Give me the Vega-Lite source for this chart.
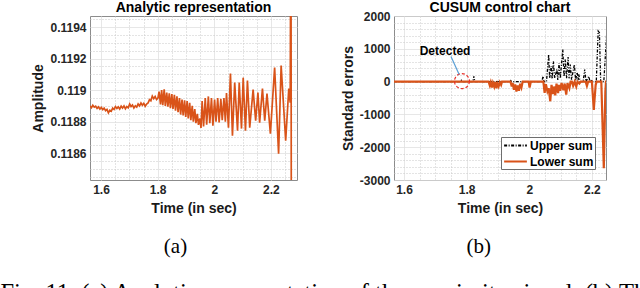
{
  "$schema": "https://vega.github.io/schema/vega-lite/v6.json",
  "background": "white",
  "padding": {"left": 0, "top": 0, "right": 0, "bottom": 0},
  "config": {
    "font": "Liberation Sans",
    "view": {"stroke": "#8c8c8c", "strokeWidth": 1},
    "axis": {
      "domain": false, "ticks": false,
      "labelFont": "Liberation Sans", "labelFontSize": 12, "labelFontWeight": "bold", "labelColor": "#262626",
      "titleFont": "Liberation Sans", "titleFontSize": 14, "titleFontWeight": "bold", "titleColor": "#1a1a1a",
      "labelFlush": false, "labelOverlap": false, "gridWidth": 1
    },
    "axisX": {"labelPadding": 4, "titlePadding": 6},
    "axisY": {"labelPadding": 4, "titlePadding": 4},
    "title": {"font": "Liberation Sans", "fontSize": 14, "fontWeight": "bold", "color": "#000000"},
    "legend": {
      "title": null,
      "symbolType": "M-1.75,0H1.75", "symbolSize": 169, "symbolStrokeWidth": 2, "symbolOffset": 6,
      "labelFont": "Liberation Sans", "labelFontSize": 12, "labelFontWeight": "bold", "labelColor": "#000000",
      "padding": 1, "strokeColor": "#6e6e6e", "fillColor": "white", "rowPadding": 2, "labelOffset": 7
    }
  },
  "datasets": {
    "amp": [
      {"t":1.561,"a":0.1189},{"t":1.566,"a":0.118888},{"t":1.571,"a":0.118904},{"t":1.576,"a":0.118892},
      {"t":1.581,"a":0.118898},{"t":1.586,"a":0.118884},{"t":1.591,"a":0.118894},{"t":1.596,"a":0.11888},
      {"t":1.601,"a":0.11889},{"t":1.606,"a":0.118876},{"t":1.611,"a":0.118886},{"t":1.616,"a":0.11887},
      {"t":1.621,"a":0.118878},{"t":1.626,"a":0.118856},{"t":1.631,"a":0.118872},{"t":1.636,"a":0.118866},
      {"t":1.641,"a":0.118886},{"t":1.646,"a":0.118878},{"t":1.651,"a":0.118896},{"t":1.656,"a":0.118884},
      {"t":1.661,"a":0.118894},{"t":1.666,"a":0.11888},{"t":1.671,"a":0.118898},{"t":1.676,"a":0.118886},
      {"t":1.681,"a":0.1189},{"t":1.686,"a":0.118882},{"t":1.691,"a":0.118896},{"t":1.696,"a":0.118888},
      {"t":1.701,"a":0.118912},{"t":1.706,"a":0.118896},{"t":1.711,"a":0.118906},{"t":1.716,"a":0.118886},
      {"t":1.721,"a":0.1189},{"t":1.726,"a":0.118892},{"t":1.731,"a":0.118912},{"t":1.736,"a":0.1189},
      {"t":1.741,"a":0.118918},{"t":1.746,"a":0.118904},{"t":1.751,"a":0.118916},{"t":1.756,"a":0.118898},
      {"t":1.761,"a":0.118912},{"t":1.766,"a":0.118918},{"t":1.771,"a":0.11894},{"t":1.776,"a":0.118932},
      {"t":1.781,"a":0.118962},{"t":1.786,"a":0.118946},{"t":1.791,"a":0.11896},{"t":1.796,"a":0.11894},
      {"t":1.801,"a":0.11895},
      {"t":1.805,"a":0.11899},{"t":1.81,"a":0.11891},{"t":1.814,"a":0.119},{"t":1.818,"a":0.118905},
      {"t":1.823,"a":0.119005},{"t":1.827,"a":0.1189},{"t":1.832,"a":0.118985},{"t":1.836,"a":0.118895},
      {"t":1.841,"a":0.11898},{"t":1.845,"a":0.118885},{"t":1.85,"a":0.118975},{"t":1.854,"a":0.11888},
      {"t":1.859,"a":0.11897},{"t":1.863,"a":0.11887},{"t":1.868,"a":0.11896},{"t":1.872,"a":0.11886},
      {"t":1.877,"a":0.11895},{"t":1.881,"a":0.118845},{"t":1.886,"a":0.11894},{"t":1.89,"a":0.11884},
      {"t":1.895,"a":0.118935},{"t":1.899,"a":0.11883},{"t":1.904,"a":0.11893},{"t":1.908,"a":0.11882},
      {"t":1.913,"a":0.11892},{"t":1.917,"a":0.11881},{"t":1.922,"a":0.1189},{"t":1.926,"a":0.1188},
      {"t":1.931,"a":0.11888},{"t":1.935,"a":0.11879},{"t":1.94,"a":0.11885},{"t":1.944,"a":0.11878},
      {"t":1.949,"a":0.11882},{"t":1.953,"a":0.11876},
      {"t":1.957,"a":0.11893},{"t":1.962,"a":0.11877},{"t":1.968,"a":0.11895},{"t":1.973,"a":0.11878},
      {"t":1.979,"a":0.11896},{"t":1.984,"a":0.11879},{"t":1.99,"a":0.11895},{"t":1.995,"a":0.118775},
      {"t":2.001,"a":0.11894},{"t":2.006,"a":0.1188},{"t":2.012,"a":0.11895},{"t":2.017,"a":0.118795},
      {"t":2.023,"a":0.118945},{"t":2.028,"a":0.11881},{"t":2.034,"a":0.11895},{"t":2.039,"a":0.1188},
      {"t":2.043,"a":0.118981},{"t":2.05,"a":0.118762},{"t":2.057,"a":0.119105},{"t":2.064,"a":0.118711},
      {"t":2.072,"a":0.119048},{"t":2.082,"a":0.118743},{"t":2.088,"a":0.119048},{"t":2.096,"a":0.118756},
      {"t":2.102,"a":0.119079},{"t":2.11,"a":0.118743},{"t":2.117,"a":0.11906},{"t":2.125,"a":0.118762},
      {"t":2.137,"a":0.119003},{"t":2.146,"a":0.118806},{"t":2.154,"a":0.118984},{"t":2.16,"a":0.118794},
      {"t":2.17,"a":0.11901},{"t":2.178,"a":0.118806},{"t":2.186,"a":0.118978},{"t":2.198,"a":0.118724},
      {"t":2.213,"a":0.119143},{"t":2.227,"a":0.118597},{"t":2.236,"a":0.119156},{"t":2.252,"a":0.118679},
      {"t":2.263,"a":0.11901},{"t":2.268,"a":0.11892},{"t":2.2705,"a":0.1203},{"t":2.2725,"a":0.1173}
    ],
    "cusum": [
      {"t":1.568,"v":0,"s":"Upper sum"},{"t":1.78,"v":0,"s":"Upper sum"},{"t":1.783,"v":40,"s":"Upper sum"},{"t":1.786,"v":0,"s":"Upper sum"},
      {"t":1.82,"v":0,"s":"Upper sum"},{"t":1.823,"v":160,"s":"Upper sum"},{"t":1.826,"v":0,"s":"Upper sum"},
      {"t":1.939,"v":0,"s":"Upper sum"},{"t":1.941,"v":30,"s":"Upper sum"},{"t":1.943,"v":0,"s":"Upper sum"},
      {"t":2.04,"v":0,"s":"Upper sum"},{"t":2.044,"v":160,"s":"Upper sum"},{"t":2.047,"v":0,"s":"Upper sum"},
      {"t":2.055,"v":0,"s":"Upper sum"},{"t":2.062,"v":830,"s":"Upper sum"},{"t":2.065,"v":100,"s":"Upper sum"},
      {"t":2.07,"v":470,"s":"Upper sum"},{"t":2.073,"v":80,"s":"Upper sum"},{"t":2.077,"v":620,"s":"Upper sum"},
      {"t":2.081,"v":100,"s":"Upper sum"},{"t":2.088,"v":370,"s":"Upper sum"},{"t":2.091,"v":50,"s":"Upper sum"},
      {"t":2.095,"v":560,"s":"Upper sum"},{"t":2.099,"v":100,"s":"Upper sum"},{"t":2.107,"v":980,"s":"Upper sum"},
      {"t":2.111,"v":150,"s":"Upper sum"},{"t":2.115,"v":680,"s":"Upper sum"},{"t":2.119,"v":100,"s":"Upper sum"},
      {"t":2.124,"v":750,"s":"Upper sum"},{"t":2.127,"v":100,"s":"Upper sum"},{"t":2.131,"v":520,"s":"Upper sum"},
      {"t":2.135,"v":60,"s":"Upper sum"},{"t":2.144,"v":520,"s":"Upper sum"},{"t":2.148,"v":40,"s":"Upper sum"},
      {"t":2.153,"v":280,"s":"Upper sum"},{"t":2.156,"v":40,"s":"Upper sum"},{"t":2.158,"v":230,"s":"Upper sum"},
      {"t":2.162,"v":0,"s":"Upper sum"},{"t":2.172,"v":0,"s":"Upper sum"},{"t":2.177,"v":370,"s":"Upper sum"},{"t":2.181,"v":0,"s":"Upper sum"},
      {"t":2.19,"v":160,"s":"Upper sum"},{"t":2.194,"v":0,"s":"Upper sum"},{"t":2.198,"v":60,"s":"Upper sum"},
      {"t":2.201,"v":0,"s":"Upper sum"},{"t":2.214,"v":0,"s":"Upper sum"},{"t":2.22,"v":1540,"s":"Upper sum"},
      {"t":2.224,"v":1490,"s":"Upper sum"},{"t":2.228,"v":0,"s":"Upper sum"},{"t":2.238,"v":0,"s":"Upper sum"},
      {"t":2.25,"v":1900,"s":"Upper sum"},
      {"t":1.568,"v":0,"s":"Lower sum"},{"t":1.87,"v":0,"s":"Lower sum"},{"t":1.874,"v":-120,"s":"Lower sum"},
      {"t":1.877,"v":-20,"s":"Lower sum"},{"t":1.881,"v":-180,"s":"Lower sum"},{"t":1.884,"v":-40,"s":"Lower sum"},
      {"t":1.888,"v":-150,"s":"Lower sum"},{"t":1.891,"v":-10,"s":"Lower sum"},{"t":1.895,"v":-200,"s":"Lower sum"},
      {"t":1.898,"v":-60,"s":"Lower sum"},{"t":1.902,"v":-150,"s":"Lower sum"},{"t":1.906,"v":-20,"s":"Lower sum"},
      {"t":1.91,"v":-100,"s":"Lower sum"},{"t":1.913,"v":0,"s":"Lower sum"},{"t":1.94,"v":0,"s":"Lower sum"},
      {"t":1.944,"v":-150,"s":"Lower sum"},{"t":1.947,"v":-40,"s":"Lower sum"},{"t":1.951,"v":-250,"s":"Lower sum"},
      {"t":1.955,"v":-90,"s":"Lower sum"},{"t":1.959,"v":-300,"s":"Lower sum"},{"t":1.963,"v":-120,"s":"Lower sum"},
      {"t":1.967,"v":-280,"s":"Lower sum"},{"t":1.971,"v":-60,"s":"Lower sum"},{"t":1.975,"v":-180,"s":"Lower sum"},
      {"t":1.979,"v":0,"s":"Lower sum"},{"t":1.998,"v":0,"s":"Lower sum"},{"t":2.001,"v":-180,"s":"Lower sum"},
      {"t":2.005,"v":0,"s":"Lower sum"},{"t":2.045,"v":0,"s":"Lower sum"},{"t":2.049,"v":-340,"s":"Lower sum"},
      {"t":2.053,"v":-80,"s":"Lower sum"},{"t":2.058,"v":-300,"s":"Lower sum"},{"t":2.062,"v":-200,"s":"Lower sum"},
      {"t":2.067,"v":-600,"s":"Lower sum"},{"t":2.071,"v":-100,"s":"Lower sum"},{"t":2.076,"v":-380,"s":"Lower sum"},
      {"t":2.079,"v":-150,"s":"Lower sum"},{"t":2.083,"v":-420,"s":"Lower sum"},{"t":2.087,"v":-60,"s":"Lower sum"},
      {"t":2.092,"v":-350,"s":"Lower sum"},{"t":2.095,"v":-100,"s":"Lower sum"},{"t":2.099,"v":-280,"s":"Lower sum"},
      {"t":2.103,"v":-40,"s":"Lower sum"},{"t":2.109,"v":-260,"s":"Lower sum"},{"t":2.113,"v":-60,"s":"Lower sum"},
      {"t":2.118,"v":-400,"s":"Lower sum"},{"t":2.122,"v":-50,"s":"Lower sum"},{"t":2.128,"v":-200,"s":"Lower sum"},
      {"t":2.132,"v":0,"s":"Lower sum"},{"t":2.136,"v":0,"s":"Lower sum"},{"t":2.14,"v":-130,"s":"Lower sum"},{"t":2.145,"v":0,"s":"Lower sum"},
      {"t":2.15,"v":-150,"s":"Lower sum"},{"t":2.154,"v":0,"s":"Lower sum"},{"t":2.16,"v":-60,"s":"Lower sum"},
      {"t":2.164,"v":0,"s":"Lower sum"},{"t":2.18,"v":0,"s":"Lower sum"},{"t":2.184,"v":-130,"s":"Lower sum"},
      {"t":2.188,"v":0,"s":"Lower sum"},{"t":2.2,"v":0,"s":"Lower sum"},{"t":2.206,"v":-860,"s":"Lower sum"},
      {"t":2.212,"v":-100,"s":"Lower sum"},{"t":2.215,"v":0,"s":"Lower sum"},{"t":2.23,"v":0,"s":"Lower sum"},
      {"t":2.238,"v":-2640,"s":"Lower sum"},{"t":2.243,"v":-300,"s":"Lower sum"},{"t":2.245,"v":0,"s":"Lower sum"},
      {"t":2.25,"v":0,"s":"Lower sum"}
    ]
  },
  "title": {
    "text": "Fig. 11. (a) Analytic representation of the proximity signal. (b) The",
    "orient": "bottom", "anchor": "start", "font": "Liberation Serif", "fontSize": 24.5,
    "fontWeight": "normal", "color": "#000000", "offset": 25, "dx": -31
  },
  "spacing": 42,
  "resolve": {"scale": {"color": "independent", "strokeDash": "independent"}, "legend": {"color": "independent", "strokeDash": "independent"}},
  "hconcat": [
    {
      "title": {"text": "(a)", "orient": "bottom", "anchor": "middle", "font": "Liberation Serif", "fontSize": 21, "fontWeight": "normal", "offset": 20, "dx": 11},
      "hconcat": [
        {
          "title": {"text": "Analytic representation", "offset": -2},
          "width": 207, "height": 164,
          "data": {"name": "amp"},
          "mark": {"type": "line", "color": "#D95319", "strokeWidth": 1.7, "clip": true},
          "encoding": {
            "x": {
              "field": "t", "type": "quantitative",
              "scale": {"domain": [1.561, 2.292], "nice": false, "zero": false},
              "axis": {
                "title": "Time (in sec)",
                "values": [1.6,1.65,1.7,1.75,1.8,1.85,1.9,1.95,2,2.05,2.1,2.15,2.2,2.25],
                "labelExpr": "abs(datum.value*5 - round(datum.value*5)) < 0.001 ? format(datum.value, '.1~f') : ''",
                "gridDash": {"condition": {"test": "abs(datum.value*5 - round(datum.value*5)) < 0.001", "value": [1, 0]}, "value": [1, 2]},
                "gridColor": {"condition": {"test": "abs(datum.value*5 - round(datum.value*5)) < 0.001", "value": "#dedede"}, "value": "#c8c8c8"}
              }
            },
            "y": {
              "field": "a", "type": "quantitative",
              "scale": {"domain": [0.11843, 0.11947], "nice": false, "zero": false},
              "axis": {
                "title": "Amplitude",
                "values": [0.11845,0.1185,0.11855,0.1186,0.11865,0.1187,0.11875,0.1188,0.11885,0.1189,0.11895,0.119,0.11905,0.1191,0.11915,0.1192,0.11925,0.1193,0.11935,0.1194,0.11945],
                "labelExpr": "abs(datum.value/0.0002 - round(datum.value/0.0002)) < 0.01 ? format(datum.value, '.4~f') : ''",
                "gridDash": {"condition": {"test": "abs(datum.value/0.0002 - round(datum.value/0.0002)) < 0.01", "value": [1, 0]}, "value": [1, 2]},
                "gridColor": {"condition": {"test": "abs(datum.value/0.0002 - round(datum.value/0.0002)) < 0.01", "value": "#dedede"}, "value": "#c8c8c8"}
              }
            }
          }
        }
      ]
    },
    {
      "title": {"text": "(b)", "orient": "bottom", "anchor": "middle", "font": "Liberation Serif", "fontSize": 21, "fontWeight": "normal", "offset": 20, "dx": 5},
      "resolve": {"scale": {"color": "independent", "strokeDash": "independent"}, "legend": {"color": "independent", "strokeDash": "independent"}},
      "hconcat": [
        {
          "title": {"text": "CUSUM control chart", "offset": -5},
          "width": 212, "height": 164,
          "encoding": {
            "x": {
              "field": "t", "type": "quantitative",
              "scale": {"domain": [1.568, 2.245], "nice": false, "zero": false},
              "axis": {
                "title": "Time (in sec)",
                "values": [1.6,1.65,1.7,1.75,1.8,1.85,1.9,1.95,2,2.05,2.1,2.15,2.2],
                "labelExpr": "abs(datum.value*5 - round(datum.value*5)) < 0.001 ? format(datum.value, '.1~f') : ''",
                "gridDash": {"condition": {"test": "abs(datum.value*5 - round(datum.value*5)) < 0.001", "value": [1, 0]}, "value": [1, 2]},
                "gridColor": {"condition": {"test": "abs(datum.value*5 - round(datum.value*5)) < 0.001", "value": "#dedede"}, "value": "#c8c8c8"}
              }
            },
            "y": {
              "field": "v", "type": "quantitative",
              "scale": {"domain": [-3000, 2000], "nice": false, "zero": false},
              "axis": {
                "title": "Standard errors",
                "values": [-3000,-2800,-2600,-2400,-2200,-2000,-1800,-1600,-1400,-1200,-1000,-800,-600,-400,-200,0,200,400,600,800,1000,1200,1400,1600,1800,2000],
                "labelExpr": "abs(datum.value % 1000) < 1 ? '' + datum.value : ''",
                "gridDash": {"condition": {"test": "abs(datum.value % 1000) < 1", "value": [1, 0]}, "value": [1, 2]},
                "gridColor": {"condition": {"test": "abs(datum.value % 1000) < 1", "value": "#dedede"}, "value": "#c8c8c8"}
              }
            }
          },
          "layer": [
            {
              "data": {"name": "cusum"},
              "transform": [{"filter": "datum.s == 'Upper sum'"}],
              "mark": {"type": "line", "strokeWidth": 1.3, "clip": true},
              "encoding": {
                "color": {"field": "s", "type": "nominal", "scale": {"domain": ["Upper sum", "Lower sum"], "range": ["#000000", "#D95319"]}, "legend": {"orient": "bottom-right", "offset": 11}},
                "strokeDash": {"field": "s", "type": "nominal", "scale": {"domain": ["Upper sum", "Lower sum"], "range": [[3, 1.5, 1, 1.5], [1, 0]]}, "legend": {"orient": "bottom-right", "offset": 11}}
              }
            },
            {
              "data": {"name": "cusum"},
              "transform": [{"filter": "datum.s == 'Lower sum'"}],
              "mark": {"type": "line", "strokeWidth": 2.2, "clip": true},
              "encoding": {
                "color": {"field": "s", "type": "nominal"},
                "strokeDash": {"field": "s", "type": "nominal"}
              }
            },
            {
              "data": {"values": [{"t": 1.785, "v": 15}]},
              "mark": {"type": "point", "shape": "circle", "size": 225, "stroke": "#e8312a", "strokeWidth": 1.2, "strokeDash": [3, 2], "filled": false, "opacity": 1},
              "encoding": {}
            },
            {
              "data": {"values": [{"t": 1.75, "v": 767, "t2": 1.776, "v2": 215}]},
              "mark": {"type": "rule", "color": "#5a9fd6", "strokeWidth": 1.2},
              "encoding": {"x2": {"field": "t2"}, "y2": {"field": "v2"}}
            },
            {
              "data": {"values": [{"t": 1.731, "v": 920, "label": "Detected"}]},
              "mark": {"type": "text", "font": "Liberation Sans", "fontSize": 12, "fontWeight": "bold", "color": "#000000", "align": "center", "baseline": "middle"},
              "encoding": {"text": {"field": "label"}}
            }
          ]
        }
      ]
    }
  ]
}
